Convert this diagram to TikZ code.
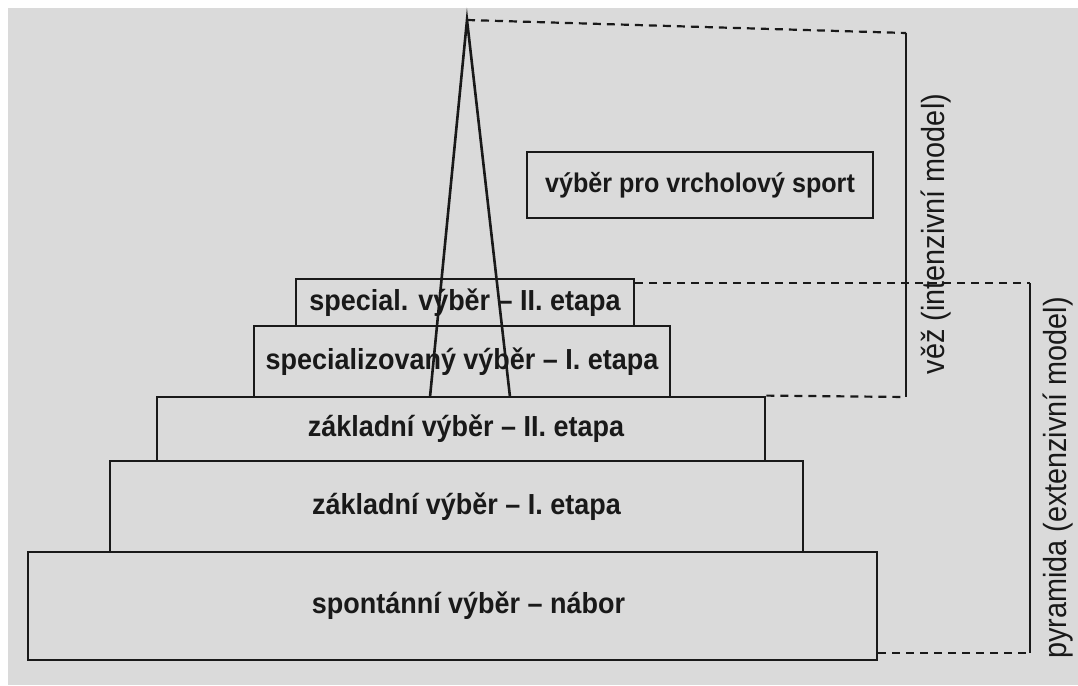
\documentclass[tikz,border=0pt]{standalone}
\usepackage{fontspec}
\setmainfont{Liberation Sans}
\newfontfamily\stagefont[FakeStretch=0.93]{Liberation Sans}
\newfontfamily\sidefont[FakeStretch=0.9]{Liberation Sans}
\definecolor{bg}{RGB}{218,218,218}
\definecolor{ink}{RGB}{25,25,25}
\newcommand\shiftedtext[3]{\hspace*{#1}\raisebox{#2}{#3}}
\tikzset{
  stage/.style={draw=ink, line width=2.8pt, inner sep=0pt, text=ink,
    font=\stagefont\bfseries\fontsize{29}{32}\selectfont},
  side/.style={text=ink, rotate=90, inner sep=0pt,
    font=\sidefont\fontsize{32}{35}\selectfont},
  solidline/.style={draw=ink, line width=2.6pt},
  dashline/.style={draw=ink, line width=2.2pt, dash pattern=on 8pt off 6pt},
}
\begin{document}
\begin{tikzpicture}[x=1pt,y=-1pt]
\useasboundingbox (0,0) rectangle (1078,685);
\fill[white] (0,0) rectangle (1078,685);
\fill[bg] (8,8) rectangle (1078,685);

% stages (positions in pixels: centre, width, height)
\node[stage, minimum width=849pt, minimum height=108pt] (s1) at (452.5,606) {\shiftedtext{32pt}{-2pt}{spontánní výběr – nábor}};
\node[stage, minimum width=693pt, minimum height=91pt] (s2) at (456.5,506.5) {\shiftedtext{20pt}{-4pt}{základní výběr – I. etapa}};
\node[stage, minimum width=608pt, minimum height=64pt] (s3) at (461,429) {\shiftedtext{10pt}{-4pt}{základní výběr – II. etapa}};
\node[stage, minimum width=416pt, minimum height=71pt] (s4) at (462,361.5) {specializovaný výběr – I. etapa};
\node[stage, minimum width=338pt, minimum height=47pt] (s5) at (465,302.5) {special. výběr – II. etapa};
\node[stage, font=\stagefont\bfseries\fontsize{27}{30}\selectfont, minimum width=346pt, minimum height=66pt] (top) at (700,185) {výběr pro vrcholový sport};

% tower
\coordinate (apex) at (467,20);
\coordinate (tl) at (430,397);
\coordinate (tr) at (510,397);
\draw[solidline] (tl) -- (apex) -- (tr);

% bracket: tower
\coordinate (b1t) at (906,33);
\coordinate (b1b) at (906,397);
\draw[dashline] (apex) -- (b1t);
\draw[solidline] (b1t) -- (b1b);
\draw[dashline] (s3.north east) -- (b1b);

% bracket: pyramid
\coordinate (b2t) at (1030,283);
\coordinate (b2b) at (1030,653);
\draw[dashline] (s5.north east |- b2t) -- (b2t);
\draw[solidline] (b2t) -- (b2b);
\draw[dashline] (s1.east |- b2b) -- (b2b);

% side labels
\node[side] (lv) at (936,234) {věž (intenzivní model)};
\node[side] (lp) at (1058,478) {pyramida (extenzivní model)};
\end{tikzpicture}
\end{document}
